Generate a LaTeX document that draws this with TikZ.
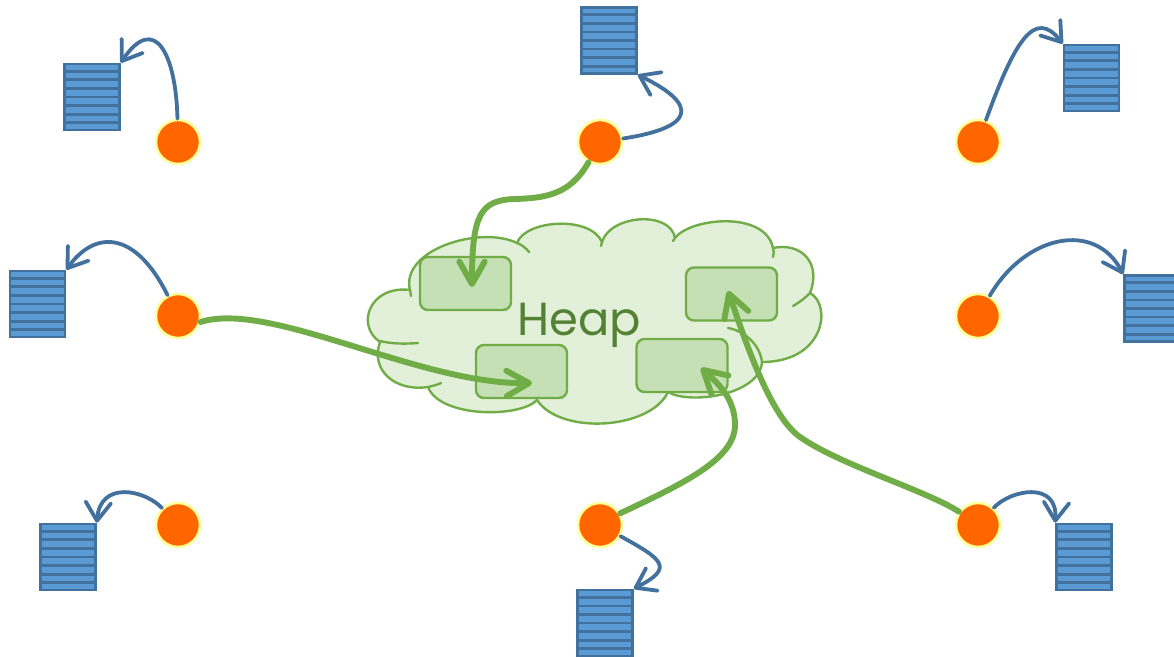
\documentclass[tikz,border=0pt]{standalone}
\usepackage{fontspec}
\newfontfamily\heapfont{Poppins}
\usetikzlibrary{arrows.meta,calc}
\definecolor{stackfill}{HTML}{5B9BD5}
\definecolor{stackedge}{HTML}{41719C}
\definecolor{threadfill}{HTML}{FF6600}
\definecolor{threadedge}{HTML}{FFFF99}
\definecolor{cloudfill}{HTML}{E2F0D9}
\definecolor{cloudedge}{HTML}{70AD47}
\definecolor{objfill}{HTML}{C5E0B4}
\definecolor{heaptext}{HTML}{548235}
\begin{document}
\begin{tikzpicture}[x=0.025cm,y=-0.025cm,
  stackbox/.style={rectangle, draw=stackedge, fill=stackfill, line width=1.9pt, minimum width=1.375cm, minimum height=1.65cm, inner sep=0pt},
  stackline/.style={draw=stackedge, line width=1.9pt},
  thread/.style={circle, fill=threadfill, draw=threadedge, line width=1.8pt, minimum size=1.1cm, inner sep=0pt},
  obj/.style={rectangle, rounded corners=0.2cm, draw=cloudedge, fill=objfill, line width=1.7pt, minimum width=2.275cm, minimum height=1.325cm, inner sep=0pt},
  cloudline/.style={draw=cloudedge, line width=1.7pt, line join=round, line cap=round},
  stackref/.style={draw=stackedge, line width=2.7pt, line cap=round, -{Straight Barb[length=13pt,width=18pt,round]}},
  heapref/.style={draw=cloudedge, line width=4.2pt, line cap=round, -{Straight Barb[length=16pt,width=18pt,round]}},
]
\useasboundingbox[fill=white] (0,0) rectangle (1174,656);

% heap cloud
\path[cloudline, fill=cloudfill] (517,243) .. controls (525,220) and (590,215) .. (602,242)
  .. controls (610,215) and (670,210) .. (675,238)
  .. controls (690,218) and (765,210) .. (773,248)
  .. controls (800,242) and (822,262) .. (810,293)
  .. controls (832,305) and (825,362) .. (762,362)
  .. controls (760,395) and (690,405) .. (668,392)
  .. controls (650,430) and (560,435) .. (537,400)
  .. controls (520,418) and (440,418) .. (428,387)
  .. controls (395,392) and (370,370) .. (380,342)
  .. controls (355,325) and (370,285) .. (410,290)
  .. controls (400,250) and (480,225) .. (517,243) -- cycle;
\draw[cloudline] (517,243) .. controls (522,245) and (526,248) .. (529,252);
\draw[cloudline] (380,341) .. controls (392,344) and (405,344) .. (418,343);
\draw[cloudline] (428,387) .. controls (432,386) and (437,385) .. (441,383);
\draw[cloudline] (728,328) .. controls (745,331) and (760,345) .. (762,362);
\draw[cloudline] (810,293) .. controls (805,298) and (800,302) .. (793,306);
\draw[cloudline] (773,248) .. controls (774,251) and (774,254) .. (773,257);
\draw[cloudline] (410,290) -- (411,296);
\draw[cloudline] (602,242) -- (601,246);
\draw[cloudline] (675,238) -- (673,241);

% heap objects
\node[obj] (b1) at (465.5,283.5) {};
\node[obj] (b2) at (521.5,371.5) {};
\node[obj] (b3) at (682,365.5) {};
\node[obj] (b4) at (731.5,294) {};
\node[text=heaptext, font=\heapfont\fontsize{33}{36}\selectfont, anchor=base, inner sep=0pt] (heap) at (579,335) {Heap};

\coordinate (t1) at (472,287);
\coordinate (t2) at (532,383);
\coordinate (t3) at (701,368);
\coordinate (t4) at (728,291);

% stacks
\node[stackbox] (s1) at (92,97) {};
\node[stackbox] (s2) at (609,40.5) {};
\node[stackbox] (s3) at (1091.5,78) {};
\node[stackbox] (s4) at (37.5,304) {};
\node[stackbox] (s5) at (1152,308.5) {};
\node[stackbox] (s6) at (68,557) {};
\node[stackbox] (s7) at (605,623) {};
\node[stackbox] (s8) at (1084,557) {};
\foreach \n in {s1,s2,s3,s4,s5,s6,s7,s8} {
  \foreach \i in {1,...,7} {
    \draw[stackline] ($(\n.north west)!\i/8!(\n.south west)$) -- ($(\n.north east)!\i/8!(\n.south east)$);
  }
}

% threads
\node[thread] (c1) at (178,142) {};
\node[thread] (c2) at (600,142) {};
\node[thread] (c3) at (978,142) {};
\node[thread] (c4) at (178,316) {};
\node[thread] (c5) at (978,316) {};
\node[thread] (c6) at (178,525) {};
\node[thread] (c7) at (600,525) {};
\node[thread] (c8) at (978,525) {};

% thread -> own stack
\draw[stackref] (c1) .. controls (176,55) and (155,12) .. (s1.north east);
\draw[stackref] (c2) .. controls (692,128) and (702,106) .. (s2.south east);
\draw[stackref] (c3) .. controls (1015,40) and (1035,8) .. (s3.north west);
\draw[stackref] (c4) .. controls (135,230) and (95,230) .. (s4.north east);
\draw[stackref] (c5) .. controls (1025,235) and (1095,220) .. (s5.north west);
\draw[stackref] (c6) .. controls (145,490) and (100,480) .. (s6.north east);
\draw[stackref] (c7) .. controls (664,560) and (674,568) .. (s7.north east);
\draw[stackref] (c8) .. controls (1010,490) and (1058,480) .. (s8.north west);

% thread -> heap objects
\draw[heapref] (c2) .. controls (570,195) and (545,198) .. (515,199)
  .. controls (480,200) and (472,215) .. (t1);
\draw[heapref] (c4.-15) .. controls (270,300) and (420,385) .. (t2);
\draw[heapref] (c7.30) .. controls (680,485) and (735,460) .. (735,425)
  .. controls (735,400) and (720,385) .. (t3);
\draw[heapref] (c8.145) .. controls (925,490) and (840,465) .. (800,437)
  .. controls (770,416) and (745,340) .. (t4);
\end{tikzpicture}
\end{document}
